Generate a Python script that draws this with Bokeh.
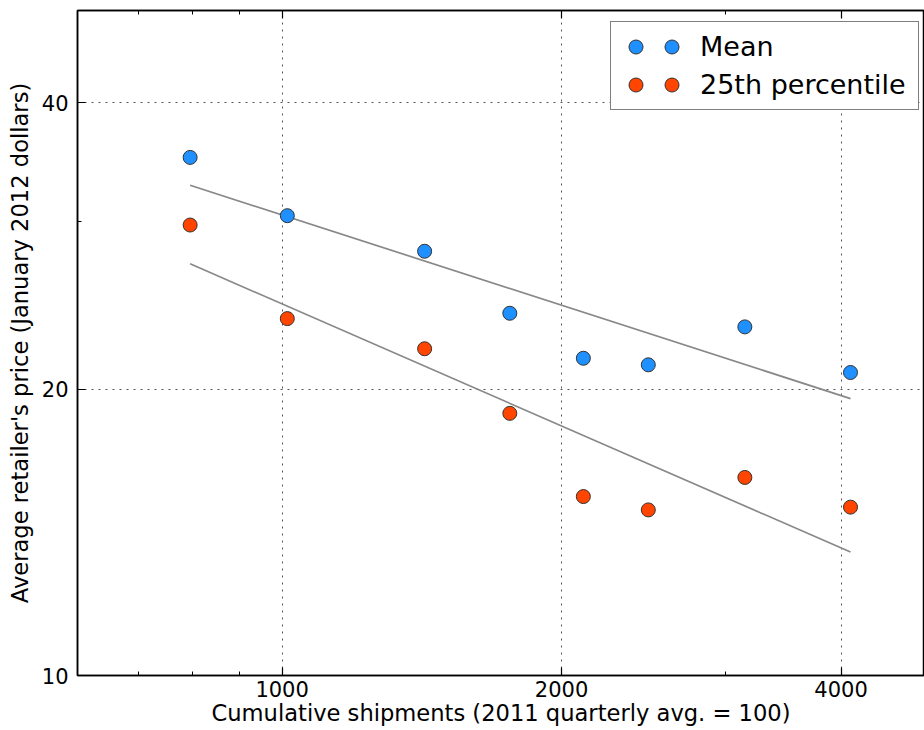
import numpy as np
from bokeh.plotting import figure
from bokeh.models import (FixedTicker, LogAxis, Legend, LegendItem,
                          PrintfTickFormatter, CustomJSTickFormatter)
from bokeh.embed import file_html
from bokeh.resources import INLINE

# ---- data ----
shipments = [796, 1013, 1424, 1759, 2111, 2480, 3151, 4095]
price_mean = [35.04, 30.43, 27.92, 24.03, 21.55, 21.21, 23.25, 20.82]
price_p25 = [29.75, 23.72, 22.05, 18.86, 15.42, 14.93, 16.15, 15.03]
series_names = ["Mean", "25th percentile"]
x_major = [1000, 2000, 4000]
x_minor = [700, 800, 900, 3000]
y_major = [10, 20, 40]
y_minor = [30]
x_title = "Cumulative shipments (2011 quarterly avg. = 100)"
y_title = "Average retailer's price (January 2012 dollars)"

FONT = "DejaVu Sans"
BLUE = "#1E90FF"
ORANGE = "#FF4500"

p = figure(width=924, height=730, x_axis_type="log", y_axis_type="log",
           x_range=(602, 4920), y_range=(10, 50),
           output_backend="svg", toolbar_location=None,
           min_border_left=77, min_border_right=0,
           min_border_top=10, min_border_bottom=55)
p.background_fill_color = "white"
p.border_fill_color = "white"
p.outline_line_color = "black"
p.outline_line_width = 1.5

# log-log least squares fit lines
lx = np.log(np.array(shipments, dtype=float))


def fit(vals):
    b, a = np.polyfit(lx, np.log(np.array(vals, dtype=float)), 1)
    xs = np.array([min(shipments), max(shipments)], dtype=float)
    return xs, np.exp(a + b * np.log(xs))


for vals in (price_mean, price_p25):
    fx, fy = fit(vals)
    p.line(fx, fy, line_color="#888888", line_width=1.7)

r_mean = p.scatter(shipments, price_mean, size=14, fill_color=BLUE,
                   line_color="#333333", line_width=1)
r_p25 = p.scatter(shipments, price_p25, size=14, fill_color=ORANGE,
                  line_color="#333333", line_width=1)


def style_axis(ax):
    ax.axis_line_color = "black"
    ax.axis_line_width = 1.5
    ax.major_tick_in = 8
    ax.major_tick_out = 0
    ax.minor_tick_in = 4
    ax.minor_tick_out = 0
    ax.major_tick_line_color = "black"
    ax.minor_tick_line_color = "black"
    ax.major_tick_line_width = 1.2
    ax.minor_tick_line_width = 1
    ax.major_label_text_font = FONT
    ax.major_label_text_color = "black"
    ax.major_label_text_font_size = "21px"
    ax.axis_label_text_font = FONT
    ax.axis_label_text_font_style = "normal"
    ax.axis_label_text_color = "black"
    ax.axis_label_text_font_size = "22.6px"


xa = p.xaxis[0]
xa.ticker = FixedTicker(ticks=x_major, minor_ticks=x_minor)
xa.formatter = PrintfTickFormatter(format="%d")
style_axis(xa)
xa.major_label_standoff = 5
xa.axis_label = x_title
xa.axis_label_standoff = 0

ya = p.yaxis[0]
ya.ticker = FixedTicker(ticks=y_major, minor_ticks=y_minor)
ya.formatter = PrintfTickFormatter(format="%d")
style_axis(ya)
ya.major_label_standoff = 9
ya.axis_label = y_title
ya.axis_label_standoff = 6

# top spine ticks (no labels)
top = LogAxis(ticker=FixedTicker(ticks=x_major, minor_ticks=x_minor),
              formatter=CustomJSTickFormatter(code="return ''"))
style_axis(top)
top.major_label_standoff = 0
p.add_layout(top, "above")

p.xgrid.ticker = FixedTicker(ticks=x_major)
p.ygrid.ticker = FixedTicker(ticks=y_major)
for g in (p.xgrid[0], p.ygrid[0]):
    g.grid_line_color = "#555555"
    g.grid_line_width = 1
    g.grid_line_dash = "2 5"

common = dict(padding=7, spacing=3, glyph_width=35, glyph_height=35,
              label_height=35, label_text_font=FONT,
              label_text_font_size="27px", label_text_color="black",
              margin=0)

leg = Legend(items=[LegendItem(label=series_names[0], renderers=[r_mean]),
                    LegendItem(label=series_names[1], renderers=[r_p25])],
             location=(533, 565), label_standoff=47, label_width=211,
             border_line_color="black", border_line_width=1.5,
             background_fill_color="white", background_fill_alpha=1,
             **common)
# second marker of each legend row (two points per entry)
leg2 = Legend(items=[LegendItem(label=" ", renderers=[r_mean]),
                     LegendItem(label=" ", renderers=[r_p25])],
              location=(577, 573), label_standoff=0,
              border_line_color=None, background_fill_alpha=0,
              **common)
p.add_layout(leg)
p.add_layout(leg2)

open("out.html", "w").write(file_html(p, INLINE))
